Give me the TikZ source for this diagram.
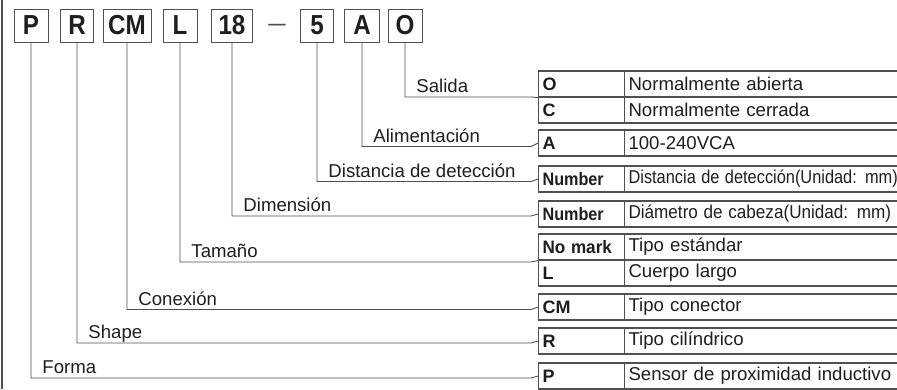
\documentclass[tikz,border=0pt]{standalone}
\usepackage{fontspec}
\setmainfont{Liberation Sans}
\usetikzlibrary{positioning}
\definecolor{rulegray}{HTML}{505050}
\definecolor{inkgray}{HTML}{1E1E1E}

\tikzset{
  codebox/.style={draw=rulegray, line width=0.9pt, minimum height=33pt, inner sep=0pt,
    text=inkgray, font=\fontsize{27.5}{27.5}\selectfont\bfseries},
  cellcode/.style={draw=rulegray, line width=1.1pt, anchor=west, minimum height=26pt,
    text width=78pt, inner xsep=4pt, inner ysep=0pt, align=left, text=inkgray,
    font=\fontsize{18}{18}\selectfont\bfseries},
  celldesc/.style={draw=rulegray, line width=1.1pt, anchor=west, minimum height=26pt,
    text width=272pt, inner xsep=4pt, inner ysep=0pt, align=left, text=inkgray,
    font=\fontsize{18.6}{18.6}\selectfont},
  leader/.style={draw=rulegray, line width=0.9pt},
  leadlabel/.style={anchor=base west, inner sep=0pt, text=inkgray,
    font=\fontsize{18.6}{18.6}\selectfont},
}

\begin{document}
\begin{tikzpicture}[x=1pt, y=-1pt]
  \useasboundingbox (0,0) rectangle (897,389);

  % Left border
  \draw[rulegray, line width=2pt] (2,0) -- (2,389);

  % Code boxes
  \foreach \n/\x/\w/\t in {bP/31/34/P, bR/77/33/R, bCM/127/48/CM, bL/180/34/L,
                           b18/232/41/18, b5/317/33/5, bA/362/35/A, bO/405/34/O} {
    \node[codebox, minimum width=\w*1pt] (\n) at (\x,25.5) {\scalebox{0.88}[1]{\t}};
  }
  \node[text=rulegray, font=\fontsize{25}{25}\selectfont, inner sep=0pt] (dash) at (277,27.5) {\scalebox{1.25}[1]{–}};

  % Salida
  \node[cellcode] (cO) at (538,84) {O};
  \node[celldesc] (dO) at (624,84) {Normalmente abierta};
  \node[cellcode] (cC) at (538,110) {C};
  \node[celldesc] (dC) at (624,110) {Normalmente cerrada};

  % Alimentacion
  \node[cellcode] (cA) at (538,143) {A};
  \node[celldesc] (dA) at (624,143) {100-240VCA};

  % Distancia
  \node[cellcode] (cDist) at (538,179) {\scalebox{0.9}[1]{Number}};
  \node[celldesc] (dDist) at (624,179) {\scalebox{0.88}[1]{Distancia de detección(Unidad: mm)}};

  % Dimension
  \node[cellcode] (cDim) at (538,214) {\scalebox{0.9}[1]{Number}};
  \node[celldesc] (dDim) at (624,214) {\scalebox{0.92}[1]{Diámetro de cabeza(Unidad: mm)}};

  % Tamano
  \node[cellcode] (cStd) at (538,247) {\scalebox{0.95}[1]{No mark}};
  \node[celldesc] (dStd) at (624,247) {Tipo estándar};
  \node[cellcode] (cLong) at (538,273) {L};
  \node[celldesc] (dLong) at (624,273) {Cuerpo largo};

  % Conexion
  \node[cellcode] (cCM) at (538,307) {CM};
  \node[celldesc] (dCM) at (624,307) {Tipo conector};

  % Shape
  \node[cellcode] (cCyl) at (538,341) {R};
  \node[celldesc] (dCyl) at (624,341) {Tipo cilíndrico};

  % Forma
  \node[cellcode] (cInd) at (538,376) {P};
  \node[celldesc] (dInd) at (624,376) {Sensor de proximidad inductivo};

  % Leaders
  \foreach \b/\yl/\t/\lab in {bO/97/cO.south west/Salida,
                              bA/146.5/cA.west/Alimentación,
                              b5/181.5/cDist.west/Distancia de detección,
                              b18/216/cDim.west/Dimensión,
                              bL/262/cStd.south west/Tamaño,
                              bCM/309.5/cCM.west/Conexión,
                              bR/343/cCyl.west/Shape,
                              bP/378/cInd.west/Forma} {
    \draw[leader] (\b.south) |- (531,\yl)
      node[leadlabel, pos=0.5, xshift=11pt, yshift=4.5pt] {\lab}
      -- (\t);
  }
\end{tikzpicture}
\end{document}
